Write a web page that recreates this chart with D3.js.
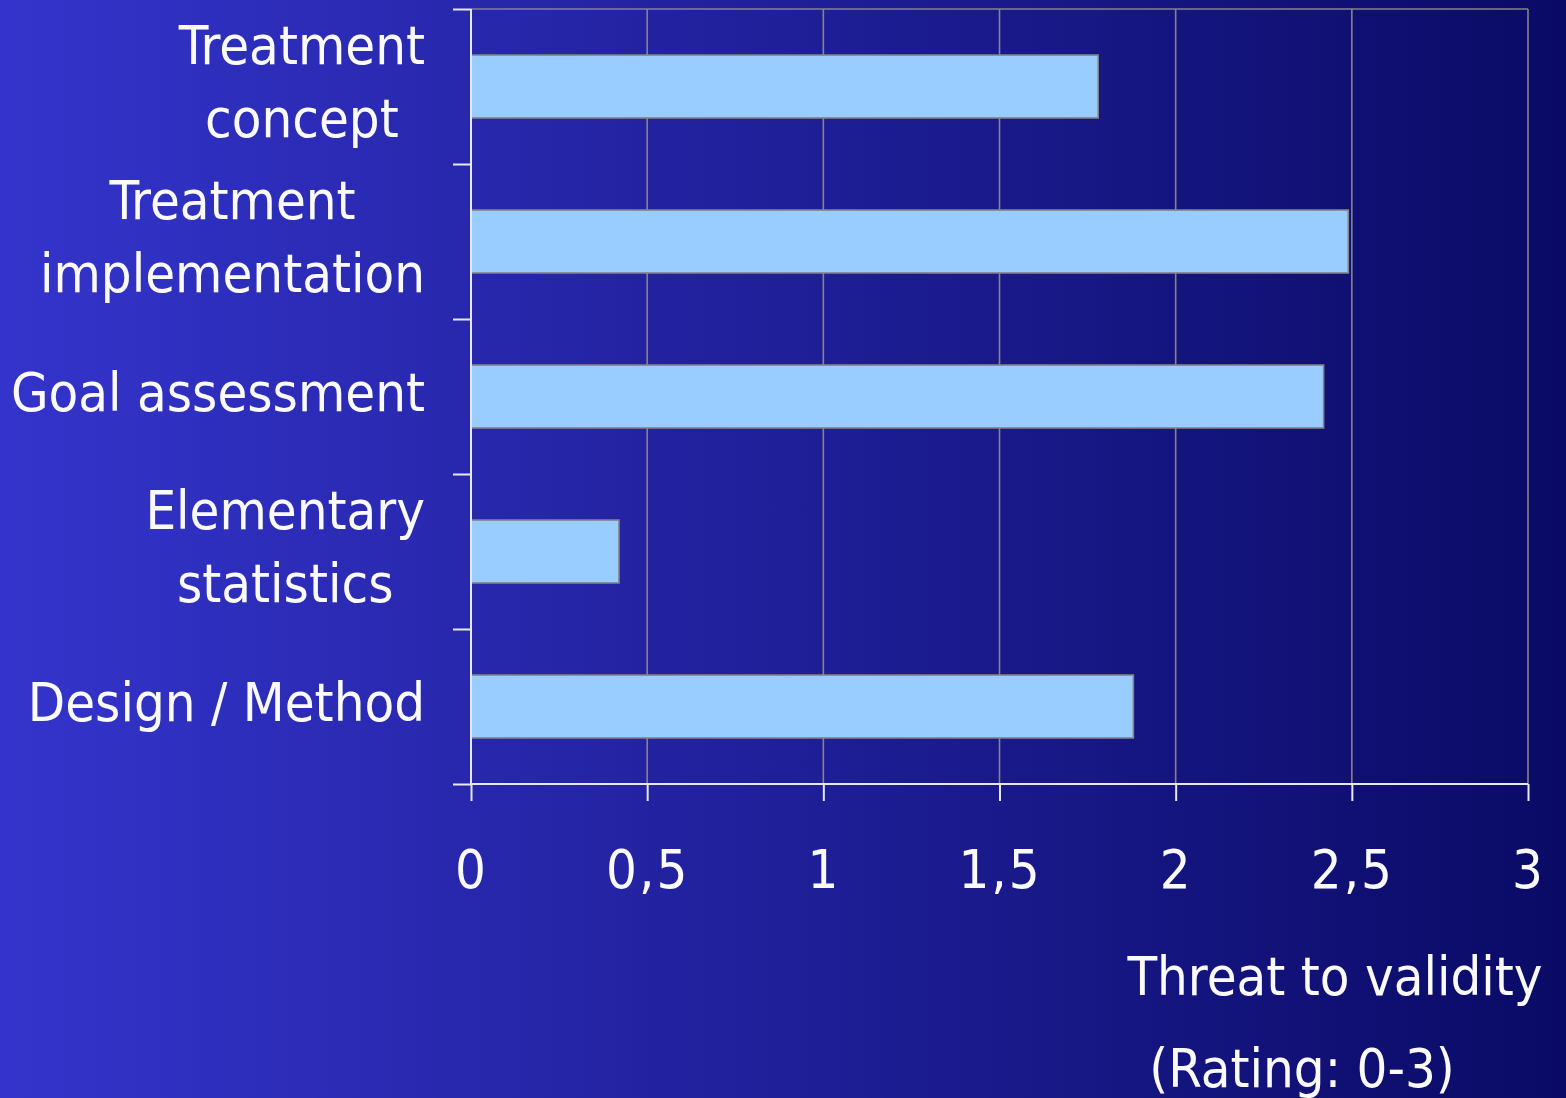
<!DOCTYPE html>
<html><head><meta charset="utf-8">
<script src="https://cdn.jsdelivr.net/npm/d3@7"></script>
<style>
html,body{margin:0;padding:0;overflow:hidden;}
text{font-family:"DejaVu Sans Condensed","DejaVu Sans",sans-serif;font-stretch:condensed;fill:#fafafa;}
</style></head>
<body>
<svg id="chart" width="1566" height="1098"></svg>
<script>
const categories = [
  ["Treatment", "concept"],
  ["Treatment", "implementation"],
  ["Goal assessment"],
  ["Elementary", "statistics"],
  ["Design / Method"]
];
const values = [1.78, 2.49, 2.42, 0.42, 1.88];
const xTicks = [0, 0.5, 1, 1.5, 2, 2.5, 3];
const xTitle = ["Threat to validity", "(Rating: 0-3)"];

const W = 1566, H = 1098;
const M = {left: 471, right: 1528, top: 9, bottom: 784};
const svg = d3.select("#chart");
const defs = svg.append("defs");
const grad = defs.append("linearGradient").attr("id","bg").attr("x1","0").attr("x2","1").attr("y1","0").attr("y2","0");
grad.append("stop").attr("offset","0").attr("stop-color","#3434cc");
grad.append("stop").attr("offset","1").attr("stop-color","#0a0a66");
svg.append("rect").attr("width",W).attr("height",H).attr("fill","url(#bg)");

const keys = categories.map((c,i)=>i);
const x = d3.scaleLinear().domain([0,3]).range([M.left, M.right]);
const y = d3.scaleBand().domain(keys).range([M.top, M.bottom]).paddingInner(0).paddingOuter(0);
const bandFrac = 0.406;
const yb = d3.scaleLinear().domain([0, categories.length]).range([M.top, M.bottom]);

// gridlines
svg.append("g").selectAll("line").data(xTicks.filter(t=>t>0)).join("line")
  .attr("x1",d=>x(d)).attr("x2",d=>x(d)).attr("y1",M.top).attr("y2",M.bottom)
  .attr("stroke","#858585").attr("stroke-width",1.6);
// top border
svg.append("line").attr("x1",M.left).attr("x2",M.right).attr("y1",M.top).attr("y2",M.top)
  .attr("stroke","#858585").attr("stroke-width",1.6);

// bars
svg.append("g").selectAll("rect").data(values).join("rect")
  .attr("x", x(0))
  .attr("y", (d,i)=>y(i) + y.bandwidth()*(1-bandFrac)/2)
  .attr("width", d=>x(d)-x(0))
  .attr("height", y.bandwidth()*bandFrac)
  .attr("fill","#99ccff").attr("stroke","#858585").attr("stroke-width",1.6);

// y axis
const gy = svg.append("g").attr("transform",`translate(${M.left},0)`)
  .call(d3.axisLeft(yb).tickValues(d3.range(categories.length+1)).tickSize(18).tickFormat(""));
gy.selectAll("path,line").attr("stroke","#e8e8e8").attr("stroke-width",2);
gy.select("path").attr("d",`M0,${M.top}V${M.bottom}`);

// x axis
const gx = svg.append("g").attr("transform",`translate(0,${M.bottom})`)
  .call(d3.axisBottom(x).tickValues(xTicks).tickSize(17).tickFormat(d=>String(d).replace(".",",")));
gx.selectAll("path,line").attr("stroke","#e8e8e8").attr("stroke-width",2);
gx.select("path").attr("d",`M${M.left},0H${M.right}`);
gx.selectAll("text").attr("y",104).attr("dy",null).attr("fill","#fafafa")
  .style("font-size","54px").style("letter-spacing","2px");

// category labels
const lab = svg.append("g");
categories.forEach((lines,i)=>{
  const c = y(i) + y.bandwidth()/2;
  const g = lab.append("g");
  const base = lines.length===1 ? [c+14] : [c-23, c+50];
  const ts = lines.map((t,j)=>g.append("text").attr("y",base[j]).attr("text-anchor","middle")
    .style("font-size","54px").text(t));
  const maxW = d3.max(ts, t=>t.node().getComputedTextLength());
  ts.forEach(t=>t.attr("x", 425 - maxW/2));
});

// x title
svg.append("text").attr("x",1335).attr("y",995).attr("text-anchor","middle").style("font-size","54px").text(xTitle[0]);
svg.append("text").attr("x",1302).attr("y",1087).attr("text-anchor","middle").style("font-size","54px").text(xTitle[1]);
</script>
</body></html>
